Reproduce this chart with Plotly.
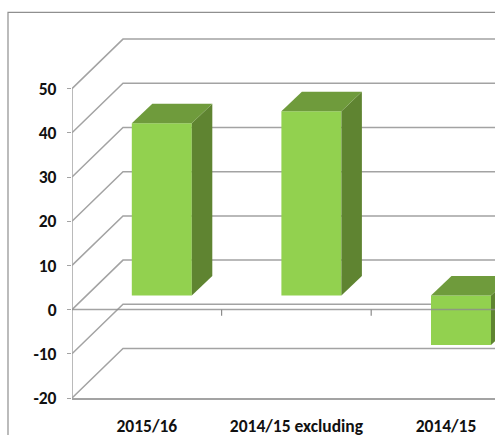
import plotly.graph_objects as go

categories = ["2015/16", "2014/15 excluding", "2014/15"]
values = [39.0, 41.7, -11.2]
y_ticks = [-20, -10, 0, 10, 20, 30, 40, 50]
y_tick_labels = ["-20", "-10", "0", "10", "20", "30", "40", "50"]

FRONT, SIDE, TOP = "#92D14F", "#5F8431", "#6F9B3C"
GRID = "#A3A3A3"
FONT = "Carlito, Calibri, Lato, sans-serif"
FONT_SIZE = 17.5

# Plot rectangle in pixels, and the oblique depth expressed in axis units
W, H, L, T, B = 495, 435, 72, 12, 37
UX, UY = 149.6, 4.42
X_MAX = (W - L) / UX
Y_MAX = (H - B - T) / UY - 20
WALL_DX, WALL_DY = 51 / UX, 49.5 / UY
BAR_X, BAR_Y = 15 / UX, 14 / UY
BAR_DX, BAR_DY = 20.5 / UX, 19.5 / UY
BAR_W = 60 / UX

pos = [i + 0.5 for i in range(len(categories))]
centers = [p + BAR_X for p in pos]

fig = go.Figure()

fig.add_trace(go.Bar(
    x=centers, y=values, base=[BAR_Y] * len(values), width=[BAR_W] * len(values),
    marker=dict(color=FRONT, line=dict(width=0)), hoverinfo="skip", showlegend=False,
))

for c, v in zip(centers, values):
    x0, x1 = c - BAR_W / 2, c + BAR_W / 2
    lo, hi = BAR_Y + min(v, 0), BAR_Y + max(v, 0)
    fig.add_trace(go.Scatter(
        x=[x1, x1 + BAR_DX, x1 + BAR_DX, x1, x1], y=[lo, lo + BAR_DY, hi + BAR_DY, hi, lo],
        mode="lines", fill="toself", fillcolor=SIDE, line=dict(width=0),
        hoverinfo="skip", showlegend=False,
    ))
    fig.add_trace(go.Scatter(
        x=[x0, x0 + BAR_DX, x1 + BAR_DX, x1, x0], y=[hi, hi + BAR_DY, hi + BAR_DY, hi, hi],
        mode="lines", fill="toself", fillcolor=TOP, line=dict(width=0),
        hoverinfo="skip", showlegend=False,
    ))

# Front zero line, showing over the negative bar
fig.add_trace(go.Scatter(
    x=[0, X_MAX], y=[0, 0], mode="lines", line=dict(color="rgba(140,140,140,0.8)", width=1.5),
    hoverinfo="skip", showlegend=False,
))
# Category ticks on the zero line
for k in range(1, len(categories)):
    fig.add_trace(go.Scatter(
        x=[k, k], y=[0, -1.4], mode="lines", line=dict(color="#8C8C8C", width=1.2),
        hoverinfo="skip", showlegend=False,
    ))

shapes = []
for v in y_ticks:
    shapes.append(dict(
        type="path", layer="below", xref="x", yref="y",
        path=f"M 0 {v} L {WALL_DX} {v + WALL_DY} L {X_MAX} {v + WALL_DY}",
        line=dict(color=GRID, width=1.5),
    ))
# Value axis spine stops at the top tick
shapes.append(dict(
    type="line", layer="below", xref="x", yref="y",
    x0=0, x1=0, y0=min(y_ticks), y1=max(y_ticks), line=dict(color=GRID, width=1.5),
))
# Outer chart border: left and top only, the rest runs off the picture
shapes.append(dict(
    type="path", layer="below", xref="paper", yref="paper",
    path=f"M {(8 - L) / (W - L)} {-B / (H - B - T)} "
         f"L {(8 - L) / (W - L)} 0.999 L 1 0.999",
    line=dict(color="#8F8F8F", width=1.2),
))

fig.update_layout(
    width=W, height=H, margin=dict(l=L, r=0, t=T, b=B, pad=0, autoexpand=False),
    paper_bgcolor="white", plot_bgcolor="rgba(0,0,0,0)", showlegend=False, shapes=shapes,
    font=dict(family=FONT, color="#111111"),
    xaxis=dict(
        range=[0, X_MAX], tickmode="array", tickvals=pos, ticktext=categories,
        showgrid=False, zeroline=False, showline=True, linecolor=GRID, linewidth=1.5,
        ticks="", ticklabelstandoff=11, tickfont=dict(size=FONT_SIZE, family=FONT, weight="bold"),
        fixedrange=True,
    ),
    yaxis=dict(
        range=[-20, Y_MAX], tickmode="array", tickvals=y_ticks, ticktext=y_tick_labels,
        showgrid=False, zeroline=False, showline=False,
        ticks="outside", ticklen=4, tickwidth=1.2, tickcolor=GRID,
        ticklabelstandoff=7, tickfont=dict(size=FONT_SIZE, family=FONT, weight="bold"),
        fixedrange=True,
    ),
)

fig.write_html(
    "out.html",
    config=dict(displayModeBar=False),
    post_script="document.body.style.margin='0';document.body.style.overflow='hidden';",
)
